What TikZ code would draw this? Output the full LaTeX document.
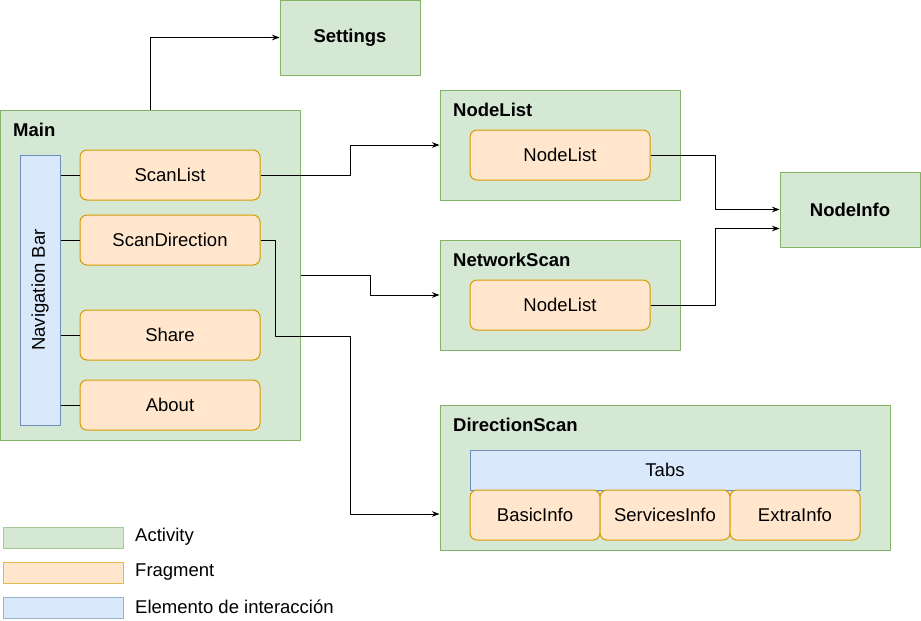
\documentclass[tikz,border=0pt]{standalone}
\usepackage{fontspec}
\setmainfont{Liberation Sans}
\usepackage{xcolor}
\usetikzlibrary{arrows.meta,calc}
\definecolor{actfill}{HTML}{D5E8D4}
\definecolor{actline}{HTML}{82B366}
\definecolor{fragfill}{HTML}{FFE6CC}
\definecolor{fragline}{HTML}{D79B00}
\definecolor{uifill}{HTML}{DAE8FC}
\definecolor{uiline}{HTML}{6C8EBF}
\newcommand{\diafont}{\fontsize{18.5}{21}\selectfont}
\tikzset{
  every node/.style={font=\diafont},
  activity/.style={draw=actline,fill=actfill,line width=1pt,inner sep=0pt},
  fragment/.style={draw=fragline,fill=fragfill,line width=1pt,rounded corners=7pt,inner sep=0pt,minimum width=180pt,minimum height=50pt},
  uielem/.style={draw=uiline,fill=uifill,line width=1pt,inner sep=0pt},
  title/.style={anchor=west,inner sep=0pt,font=\diafont\bfseries},
  link/.style={line width=1pt},
}

\begin{document}
\begin{tikzpicture}[x=1pt,y=-1pt,>=Stealth,line join=round]
  \useasboundingbox (0,0) rectangle (921,621);
  % activities
  \node[activity,minimum width=140pt,minimum height=75pt,font=\diafont\bfseries] (settings) at (350,37.5) {Settings};
  \node[activity,minimum width=300pt,minimum height=330pt] (main) at (150,275) {};
  \node[title] (maintitle) at (13,130) {Main};
  \node[activity,minimum width=240pt,minimum height=110pt] (nlact) at (560,145) {};
  \node[title] (nltitle) at (453,110) {NodeList};
  \node[activity,minimum width=240pt,minimum height=110pt] (nsact) at (560,295) {};
  \node[title] (nstitle) at (453,260) {NetworkScan};
  \node[activity,minimum width=140pt,minimum height=75pt,font=\diafont\bfseries] (nodeinfo) at (850,209.5) {NodeInfo};
  \node[activity,minimum width=450pt,minimum height=145pt] (dsact) at (665,477.5) {};
  \node[title] (dstitle) at (453,425) {DirectionScan};
  % main content
  \node[uielem,minimum width=40pt,minimum height=270pt] (navbar) at (40,290) {};
  \node[rotate=90] (navtext) at (40,290) {Navigation Bar};
  \node[fragment] (scanlist) at (170,175) {ScanList};
  \node[fragment] (scandir) at (170,240) {ScanDirection};
  \node[fragment] (share) at (170,335) {Share};
  \node[fragment] (about) at (170,405) {About};
  \draw[link] (navbar.east |- scanlist.west) -- (scanlist.west);
  \draw[link] (navbar.east |- scandir.west) -- (scandir.west);
  \draw[link] (navbar.east |- share.west) -- (share.west);
  \draw[link] (navbar.east |- about.west) -- (about.west);
  % inner fragments
  \node[fragment] (nlfrag) at (560,155) {NodeList};
  \node[fragment] (nsfrag) at (560,305) {NodeList};
  \node[uielem,minimum width=390pt,minimum height=40pt] (tabs) at (665,470) {Tabs};
  \node[fragment,minimum width=130pt] (basic) at (535,515) {BasicInfo};
  \node[fragment,minimum width=130pt] (services) at (665,515) {ServicesInfo};
  \node[fragment,minimum width=130pt] (extra) at (795,515) {ExtraInfo};
  % connectors
  \draw[link,->] (main.north) |- (settings.west);
  \draw[link,->] (scanlist.east) -- ++(90,0) |- (nlact.west);
  \draw[link,->] (main.east) -- ++(70,0) |- (nsact.west);
  \draw[link,->] (scandir.east) -- ++(15,0) -- ++(0,96) -- ++(75,0) |- ($(dsact.north west)!0.75!(dsact.south west)$);
  \draw[link,->] (nlfrag.east) -- ++(65,0) |- (nodeinfo.west);
  \draw[link,->] (nsfrag.east) -- ++(65,0) |- ([yshift=-19pt]nodeinfo.west);
  % legend
  \node[activity,draw=actline!70,minimum width=120pt,minimum height=21pt] (legact) at (63,537.5) {};
  \node[anchor=west,inner sep=0pt] (legacttext) at (135,537) {Activity};
  \node[activity,draw=fragline!70,fill=fragfill,minimum width=120pt,minimum height=21pt] (legfrag) at (63,572.5) {};
  \node[anchor=west,inner sep=0pt] (legfragtext) at (135,572) {Fragment};
  \node[uielem,draw=uiline!70,minimum width=120pt,minimum height=21pt] (legui) at (63,607.5) {};
  \node[anchor=west,inner sep=0pt] (leguitext) at (135,607) {Elemento de interacción};
\end{tikzpicture}
\end{document}
